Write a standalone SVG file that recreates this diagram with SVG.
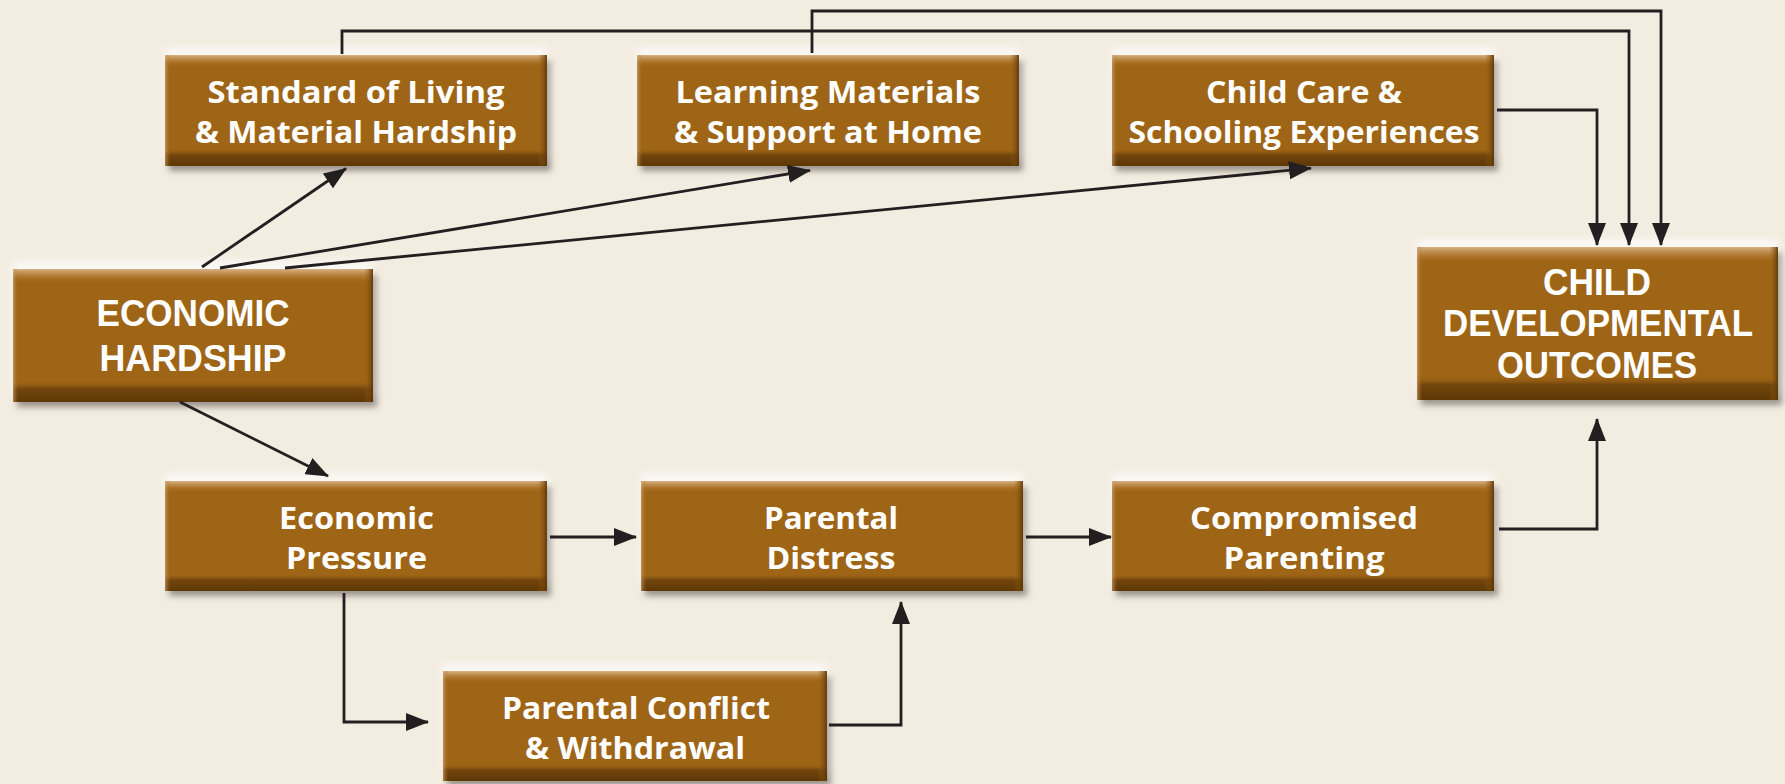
<svg xmlns="http://www.w3.org/2000/svg" width="1785" height="784" viewBox="0 0 1785 784">
<style>
.bg{fill:#F3ECE0}
.base{fill:#9F6516}
.t{fill:#FFFFFF;font-family:"Open Sans","Noto Sans","DejaVu Sans",sans-serif;font-weight:700;font-size:30px;text-anchor:middle}
.tb{font-family:"Liberation Sans","Open Sans",sans-serif;font-size:36px}
.c{fill:none;stroke:#231F20;stroke-width:2.8}
</style>
<defs>
<linearGradient id="gv" x1="0" y1="0" x2="0" y2="1">
<stop offset="0" stop-color="#E2C29A" stop-opacity="0.85"/>
<stop offset="0.05" stop-color="#C9975A" stop-opacity="0.5"/>
<stop offset="0.11" stop-color="#9F6516" stop-opacity="0"/>
<stop offset="0.84" stop-color="#9F6516" stop-opacity="0"/>
<stop offset="0.9" stop-color="#6E420B" stop-opacity="0.9"/>
<stop offset="1" stop-color="#5C3706" stop-opacity="1"/>
</linearGradient>
<linearGradient id="gh" x1="0" y1="0" x2="1" y2="0">
<stop offset="0" stop-color="#D9B383" stop-opacity="0.6"/>
<stop offset="0.015" stop-color="#9F6516" stop-opacity="0"/>
<stop offset="0.975" stop-color="#9F6516" stop-opacity="0"/>
<stop offset="1" stop-color="#5A3405" stop-opacity="0.9"/>
</linearGradient>
<filter id="sh" x="-10%" y="-30%" width="125%" height="165%">
<feGaussianBlur in="SourceAlpha" stdDeviation="3" result="b"/>
<feOffset in="b" dx="4" dy="5" result="o"/>
<feFlood flood-color="#5e5650" flood-opacity="0.6"/>
<feComposite in2="o" operator="in" result="s"/>
<feGaussianBlur in="SourceAlpha" stdDeviation="4" result="b2"/>
<feOffset in="b2" dx="0" dy="-7" result="o2"/>
<feFlood flood-color="#FFFFFF" flood-opacity="0.75"/>
<feComposite in2="o2" operator="in" result="g"/>
<feMerge><feMergeNode in="g"/><feMergeNode in="s"/><feMergeNode in="SourceGraphic"/></feMerge>
</filter>
<marker id="ah" markerUnits="userSpaceOnUse" markerWidth="24" markerHeight="18" refX="22" refY="9" orient="auto">
<path d="M0,0 L23,9 L0,18 Z" fill="#231F20"/>
</marker>
</defs>
<rect class="bg" x="0" y="0" width="1785" height="784"/>

<g id="standard">
<g filter="url(#sh)"><rect class="base" x="165" y="55" width="382" height="111"/></g>
<rect x="165" y="55" width="382" height="111" fill="url(#gv)"/>
<rect x="165" y="55" width="382" height="111" fill="url(#gh)"/>
<text class="t" x="356" y="103" textLength="297" lengthAdjust="spacingAndGlyphs">Standard of Living</text>
<text class="t" x="356" y="143" textLength="322" lengthAdjust="spacingAndGlyphs">&amp; Material Hardship</text>
</g>

<g id="learning">
<g filter="url(#sh)"><rect class="base" x="637" y="55" width="382" height="111"/></g>
<rect x="637" y="55" width="382" height="111" fill="url(#gv)"/>
<rect x="637" y="55" width="382" height="111" fill="url(#gh)"/>
<text class="t" x="828" y="103" textLength="305" lengthAdjust="spacingAndGlyphs">Learning Materials</text>
<text class="t" x="828" y="143" textLength="308" lengthAdjust="spacingAndGlyphs">&amp; Support at Home</text>
</g>

<g id="childcare">
<g filter="url(#sh)"><rect class="base" x="1112" y="55" width="382" height="111"/></g>
<rect x="1112" y="55" width="382" height="111" fill="url(#gv)"/>
<rect x="1112" y="55" width="382" height="111" fill="url(#gh)"/>
<text class="t" x="1304" y="103" textLength="196" lengthAdjust="spacingAndGlyphs">Child Care &amp;</text>
<text class="t" x="1304" y="143" textLength="351" lengthAdjust="spacingAndGlyphs">Schooling Experiences</text>
</g>

<g id="economic-hardship">
<g filter="url(#sh)"><rect class="base" x="13" y="269" width="360" height="133"/></g>
<rect x="13" y="269" width="360" height="133" fill="url(#gv)"/>
<rect x="13" y="269" width="360" height="133" fill="url(#gh)"/>
<text class="t tb" x="193" y="326" textLength="193" lengthAdjust="spacingAndGlyphs">ECONOMIC</text>
<text class="t tb" x="193" y="371" textLength="187" lengthAdjust="spacingAndGlyphs">HARDSHIP</text>
</g>

<g id="child-outcomes">
<g filter="url(#sh)"><rect class="base" x="1417" y="247" width="361" height="153"/></g>
<rect x="1417" y="247" width="361" height="153" fill="url(#gv)"/>
<rect x="1417" y="247" width="361" height="153" fill="url(#gh)"/>
<text class="t tb" x="1597" y="295" textLength="108" lengthAdjust="spacingAndGlyphs">CHILD</text>
<text class="t tb" x="1598" y="336" textLength="310" lengthAdjust="spacingAndGlyphs">DEVELOPMENTAL</text>
<text class="t tb" x="1597" y="378" textLength="200" lengthAdjust="spacingAndGlyphs">OUTCOMES</text>
</g>

<g id="economic-pressure">
<g filter="url(#sh)"><rect class="base" x="165" y="481" width="382" height="110"/></g>
<rect x="165" y="481" width="382" height="110" fill="url(#gv)"/>
<rect x="165" y="481" width="382" height="110" fill="url(#gh)"/>
<text class="t" x="356.5" y="529" textLength="155" lengthAdjust="spacingAndGlyphs">Economic</text>
<text class="t" x="356.5" y="569" textLength="141" lengthAdjust="spacingAndGlyphs">Pressure</text>
</g>

<g id="parental-distress">
<g filter="url(#sh)"><rect class="base" x="641" y="481" width="382" height="110"/></g>
<rect x="641" y="481" width="382" height="110" fill="url(#gv)"/>
<rect x="641" y="481" width="382" height="110" fill="url(#gh)"/>
<text class="t" x="831" y="529" textLength="134" lengthAdjust="spacingAndGlyphs">Parental</text>
<text class="t" x="831" y="569" textLength="129" lengthAdjust="spacingAndGlyphs">Distress</text>
</g>

<g id="compromised-parenting">
<g filter="url(#sh)"><rect class="base" x="1112" y="481" width="382" height="110"/></g>
<rect x="1112" y="481" width="382" height="110" fill="url(#gv)"/>
<rect x="1112" y="481" width="382" height="110" fill="url(#gh)"/>
<text class="t" x="1304" y="529" textLength="228" lengthAdjust="spacingAndGlyphs">Compromised</text>
<text class="t" x="1304" y="569" textLength="161" lengthAdjust="spacingAndGlyphs">Parenting</text>
</g>

<g id="parental-conflict">
<g filter="url(#sh)"><rect class="base" x="443" y="671" width="384" height="110"/></g>
<rect x="443" y="671" width="384" height="110" fill="url(#gv)"/>
<rect x="443" y="671" width="384" height="110" fill="url(#gh)"/>
<text class="t" x="636" y="719" textLength="268" lengthAdjust="spacingAndGlyphs">Parental Conflict</text>
<text class="t" x="635" y="759" textLength="220" lengthAdjust="spacingAndGlyphs">&amp; Withdrawal</text>
</g>

<g id="connectors">
<path class="c" d="M202,267 L346,168.5" marker-end="url(#ah)"/>
<path class="c" d="M220,268 L810,170.3" marker-end="url(#ah)"/>
<path class="c" d="M285,268 L1311,168.2" marker-end="url(#ah)"/>
<path class="c" d="M180,402 L328,476" marker-end="url(#ah)"/>
<path class="c" d="M550,537 L636,537" marker-end="url(#ah)"/>
<path class="c" d="M1026,537 L1111,537" marker-end="url(#ah)"/>
<path class="c" d="M344,593 V722 H428" marker-end="url(#ah)"/>
<path class="c" d="M829,725 H901 V602" marker-end="url(#ah)"/>
<path class="c" d="M1499,529 H1597 V419" marker-end="url(#ah)"/>
<path class="c" d="M1497,110 H1597 V245" marker-end="url(#ah)"/>
<path class="c" d="M342,54 V31 H1629 V245" marker-end="url(#ah)"/>
<path class="c" d="M812,53 V11 H1661 V245" marker-end="url(#ah)"/>
</g>
</svg>
